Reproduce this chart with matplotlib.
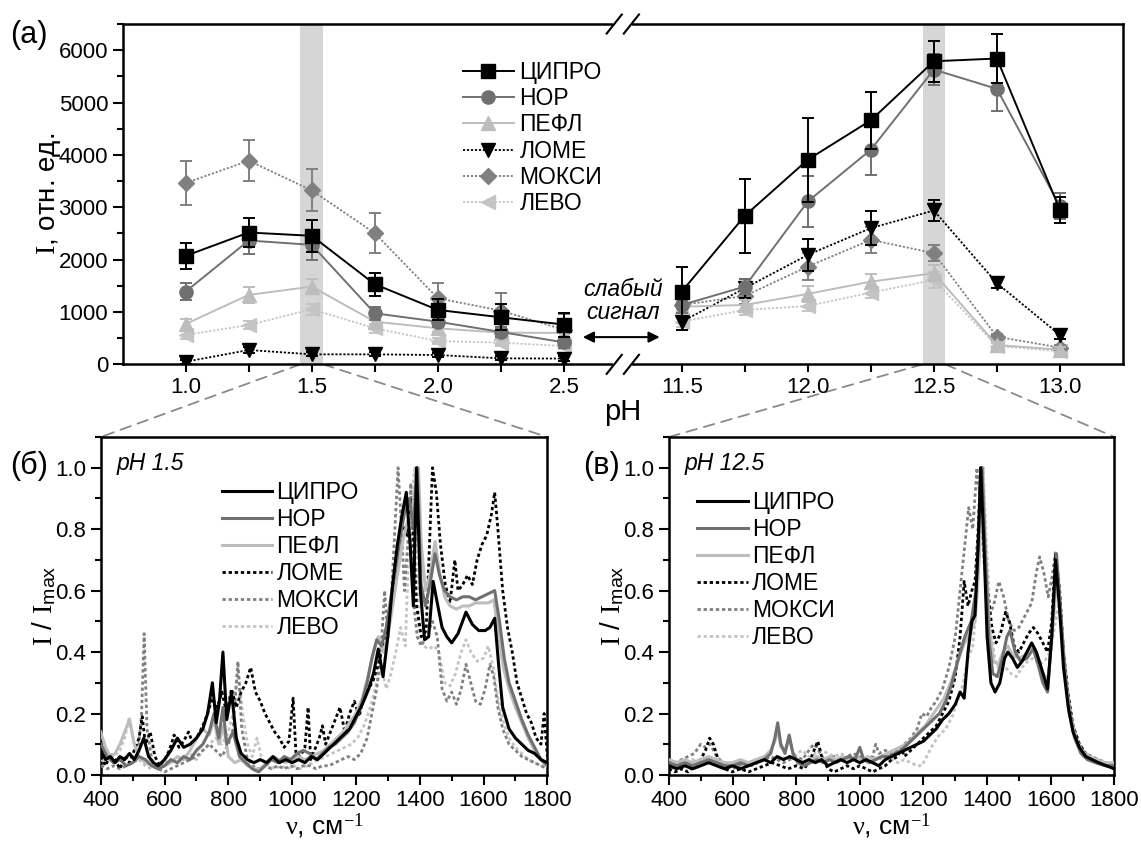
import numpy as np
import matplotlib
matplotlib.use("Agg")
import matplotlib.pyplot as plt
from matplotlib.patches import ConnectionPatch
from matplotlib.ticker import MultipleLocator, FormatStrFormatter

plt.rcParams["font.family"] = ["Liberation Sans", "DejaVu Sans"]
plt.rcParams["mathtext.fontset"] = "custom"
plt.rcParams["mathtext.rm"] = "Liberation Serif"
plt.rcParams["mathtext.sf"] = "Liberation Sans"
plt.rcParams["mathtext.it"] = "Liberation Serif:italic"

names = ["ЦИПРО", "НОР", "ПЕФЛ", "ЛОМЕ", "МОКСИ", "ЛЕВО"]

# ---- panel (a): intensity vs pH ----
ph_left = [1.0, 1.25, 1.5, 1.75, 2.0, 2.25, 2.5]
ph_right = [11.5, 11.75, 12.0, 12.25, 12.5, 12.75, 13.0]

cipro_left = [2072, 2518, 2455, 1530, 1039, 899, 760]
cipro_left_err = [245, 270, 300, 220, 200, 250, 230]
cipro_right = [1390, 2837, 3909, 4661, 5789, 5841, 2950]
cipro_right_err = [470, 710, 800, 540, 390, 460, 250]

nor_left = [1389, 2365, 2282, 975, 815, 618, 420]
nor_left_err = [160, 250, 280, 120, 100, 90, 100]
nor_right = [1134, 1485, 3111, 4100, 5630, 5261, 3020]
nor_right_err = [150, 150, 480, 490, 300, 430, 250]

pefl_left = [771, 1326, 1485, 815, 689, 605, 600]
pefl_left_err = [100, 150, 150, 100, 80, 80, 80]
pefl_right = [1100, 1134, 1345, 1580, 1741, 369, 280]
pefl_right_err = [100, 100, 150, 150, 150, 60, 50]

lome_left = [50, 274, 191, 191, 178, 115, 110]
lome_left_err = [40, 60, 40, 40, 40, 40, 40]
lome_right = [815, 1454, 2091, 2602, 2939, 1550, 560]
lome_right_err = [150, 180, 300, 330, 200, 90, 80]

moxi_left = [3463, 3889, 3322, 2506, 1262, 1026, 660]
moxi_left_err = [420, 390, 400, 380, 290, 330, 300]
moxi_right = [1134, 1307, 1868, 2378, 2123, 528, 320]
moxi_right_err = [150, 150, 250, 250, 150, 60, 50]

levo_left = [560, 752, 1052, 688, 446, 414, 350]
levo_left_err = [80, 80, 100, 80, 60, 60, 60]
levo_right = [815, 1039, 1115, 1370, 1613, 350, 250]
levo_right_err = [100, 100, 100, 100, 150, 60, 50]

xticks_left = [1.0, 1.5, 2.0, 2.5]
xticks_right = [11.5, 12.0, 12.5, 13.0]
ph_selected = [1.5, 12.5]

# ---- panel (б): spectra at pH 1.5 ----
cipro_15 = [(400,.08),(415,.05),(430,.06),(445,.04),(460,.06),(475,.05),(490,.07),(505,.05),(520,.08),(535,.12),
            (550,.06),(565,.04),(580,.03),(600,.05),(620,.08),(640,.12),(660,.09),(680,.1),(700,.12),(720,.15),
            (735,.2),(750,.3),(762,.17),(772,.24),(783,.4),(795,.18),(810,.27),(825,.12),(840,.07),(860,.05),
            (880,.04),(900,.05),(920,.04),(940,.06),(960,.04),(980,.05),(1000,.04),(1020,.05),(1040,.04),(1060,.06),
            (1080,.05),(1100,.07),(1120,.09),(1140,.11),(1160,.13),(1180,.15),(1200,.19),(1220,.23),(1240,.28),
            (1255,.33),(1270,.41),(1285,.32),(1300,.45),(1315,.62),(1330,.75),(1345,.85),(1358,.92),(1370,.75),
            (1380,.55),(1390,1.0),(1402,.6),(1415,.44),(1428,.45),(1442,.63),(1455,.56),(1470,.48),(1485,.45),
            (1500,.43),(1520,.46),(1545,.53),(1565,.49),(1585,.47),(1605,.47),(1620,.48),(1635,.51),(1648,.35),
            (1660,.22),(1680,.15),(1700,.12),(1720,.1),(1740,.08),(1760,.07),(1780,.05),(1800,.04)]
nor_15 = [(400,.1),(420,.06),(440,.04),(460,.05),(480,.03),(500,.04),(520,.06),(540,.05),(560,.03),(580,.02),
          (600,.03),(620,.05),(640,.04),(660,.06),(680,.05),(700,.08),(720,.1),(740,.14),(755,.2),(770,.12),
          (783,.22),(795,.1),(815,.14),(835,.06),(855,.04),(875,.02),(895,.01),(915,.03),(935,.05),(955,.04),
          (975,.06),(995,.05),(1015,.07),(1035,.08),(1055,.07),(1075,.05),(1095,.07),(1115,.09),(1135,.1),
          (1155,.12),(1175,.14),(1195,.17),(1215,.22),(1235,.3),(1250,.38),(1265,.44),(1280,.42),(1295,.48),
          (1310,.58),(1325,.68),(1340,.78),(1355,.87),(1368,.9),(1380,.8),(1392,1.0),(1404,.62),(1418,.55),
          (1432,.62),(1448,.72),(1462,.65),(1478,.6),(1495,.58),(1515,.57),(1535,.58),(1555,.58),(1575,.57),
          (1595,.58),(1615,.59),(1635,.6),(1650,.5),(1665,.38),(1680,.3),(1700,.24),(1720,.18),(1740,.13),
          (1760,.09),(1780,.05),(1800,.03)]
pefl_15 = [(400,.14),(415,.09),(430,.06),(445,.07),(460,.1),(475,.14),(490,.18),(505,.1),(520,.06),(540,.04),
           (560,.03),(580,.02),(600,.03),(620,.04),(640,.06),(660,.05),(680,.08),(700,.12),(720,.15),(740,.13),
           (755,.18),(770,.1),(785,.16),(800,.06),(820,.04),(840,.05),(860,.03),(880,.02),(900,.02),(920,.04),
           (940,.06),(960,.05),(980,.04),(1000,.05),(1020,.06),(1040,.05),(1060,.06),(1080,.07),(1100,.08),
           (1120,.1),(1140,.12),(1160,.14),(1180,.17),(1200,.2),(1220,.25),(1240,.33),(1255,.4),(1270,.45),
           (1285,.4),(1300,.45),(1315,.55),(1330,.65),(1345,.75),(1360,.82),(1375,.85),(1387,.95),(1396,1.0),
           (1405,.75),(1418,.6),(1432,.65),(1448,.76),(1462,.66),(1478,.58),(1495,.55),(1515,.54),(1535,.55),
           (1555,.55),(1575,.56),(1595,.56),(1615,.56),(1632,.57),(1648,.45),(1662,.35),(1680,.28),(1700,.22),
           (1720,.17),(1740,.12),(1760,.08),(1780,.05),(1800,.03)]
lome_15 = [(400,.06),(415,.03),(430,.07),(445,.05),(460,.02),(475,.06),(490,.04),(505,.08),(520,.12),(530,.19),
           (540,.1),(555,.14),(570,.06),(585,.03),(600,.05),(615,.08),(630,.13),(645,.09),(660,.11),(675,.14),
           (690,.1),(705,.13),(720,.16),(735,.2),(750,.25),(765,.22),(780,.27),(795,.2),(810,.28),(825,.22),
           (840,.27),(855,.3),(870,.35),(885,.27),(900,.24),(915,.2),(930,.17),(945,.14),(960,.12),(975,.09),
           (990,.11),(1003,.25),(1012,.07),(1025,.06),(1040,.09),(1050,.22),(1058,.05),(1070,.08),(1085,.12),
           (1095,.16),(1105,.1),(1120,.14),(1135,.18),(1150,.22),(1165,.14),(1180,.2),(1195,.24),(1210,.19),
           (1225,.26),(1240,.28),(1255,.31),(1270,.36),(1285,.42),(1300,.5),(1315,.6),(1330,.72),(1345,.82),
           (1360,.78),(1375,.9),(1390,.55),(1405,.45),(1420,.47),(1440,1.0),(1452,.92),(1465,.75),(1480,.62),
           (1495,.56),(1510,.7),(1520,.6),(1535,.62),(1550,.65),(1565,.62),(1580,.7),(1595,.75),(1610,.78),
           (1625,.85),(1635,.92),(1645,.8),(1660,.6),(1675,.48),(1690,.4),(1705,.3),(1720,.25),(1735,.2),
           (1750,.17),(1765,.12),(1780,.1),(1790,.2),(1800,.06)]
moxi_15 = [(400,.03),(420,.02),(440,.03),(460,.02),(480,.03),(500,.04),(515,.05),(528,.2),(536,.46),(545,.15),
           (560,.05),(580,.02),(600,.01),(620,.02),(640,.03),(660,.04),(680,.05),(700,.06),(720,.08),(740,.1),
           (760,.08),(780,.06),(800,.1),(815,.15),(830,.37),(842,.15),(858,.06),(875,.03),(895,.02),(915,.03),
           (935,.02),(955,.03),(975,.02),(995,.03),(1015,.02),(1035,.03),(1055,.03),(1075,.02),(1095,.03),
           (1115,.03),(1135,.04),(1155,.05),(1175,.06),(1195,.05),(1215,.07),(1235,.12),(1250,.2),(1265,.28),
           (1278,.4),(1290,.6),(1300,.45),(1312,.6),(1322,.8),(1332,1.0),(1342,.82),(1352,.6),(1362,.75),
           (1372,.95),(1382,.55),(1392,.45),(1405,.42),(1420,.45),(1440,.5),(1455,.45),(1470,.28),(1485,.24),
           (1500,.27),(1515,.23),(1530,.28),(1545,.36),(1560,.3),(1575,.24),(1590,.23),(1605,.28),(1620,.36),
           (1632,.32),(1645,.22),(1660,.15),(1680,.1),(1700,.08),(1720,.06),(1740,.05),(1760,.04),(1780,.03),
           (1800,.02)]
levo_15 = [(400,.05),(420,.04),(440,.06),(460,.08),(475,.12),(490,.19),(505,.1),(520,.05),(540,.03),(560,.02),
           (580,.03),(600,.04),(620,.05),(640,.04),(660,.06),(680,.07),(700,.05),(720,.08),(740,.1),(760,.12),
           (780,.1),(800,.14),(815,.2),(830,.35),(845,.2),(860,.1),(875,.06),(890,.12),(905,.05),(925,.03),
           (945,.02),(965,.03),(985,.02),(1005,.03),(1025,.02),(1045,.03),(1065,.04),(1085,.05),(1105,.06),
           (1125,.07),(1145,.08),(1165,.09),(1185,.1),(1205,.12),(1225,.16),(1245,.22),(1265,.3),(1280,.35),
           (1295,.28),(1310,.33),(1325,.4),(1340,.48),(1355,.42),(1370,.88),(1385,1.0),(1398,.45),(1412,.42),
           (1428,.41),(1445,.42),(1460,.4),(1478,.3),(1495,.29),(1512,.33),(1530,.4),(1545,.44),(1560,.4),
           (1580,.37),(1600,.38),(1615,.42),(1630,.35),(1645,.25),(1660,.18),(1680,.12),(1700,.09),(1720,.07),
           (1740,.05),(1760,.04),(1780,.03),(1800,.03)]

# ---- panel (в): spectra at pH 12.5 ----
cipro_125 = [(400,.03),(425,.02),(450,.03),(475,.02),(500,.03),(525,.04),(550,.03),(575,.02),(600,.03),(625,.02),
             (650,.03),(675,.04),(700,.05),(720,.04),(740,.06),(760,.05),(780,.06),(800,.05),(820,.04),(840,.05),
             (860,.04),(880,.05),(900,.03),(920,.04),(940,.05),(960,.04),(980,.05),(1000,.04),(1020,.05),(1040,.04),
             (1060,.03),(1080,.05),(1100,.06),(1120,.07),(1140,.08),(1160,.09),(1180,.1),(1200,.11),(1220,.13),
             (1240,.15),(1260,.18),(1280,.2),(1300,.23),(1315,.27),(1328,.25),(1340,.4),(1352,.5),(1362,.52),
             (1372,.75),(1380,1.0),(1390,.75),(1400,.45),(1412,.3),(1425,.27),(1440,.3),(1455,.38),(1465,.4),
             (1480,.38),(1495,.35),(1510,.37),(1525,.4),(1540,.43),(1555,.4),(1570,.35),(1590,.28),(1603,.45),
             (1615,.7),(1627,.55),(1640,.35),(1655,.22),(1670,.14),(1690,.09),(1710,.06),(1730,.05),(1750,.04),
             (1775,.03),(1800,.02)]
nor_125 = [(400,.04),(425,.03),(450,.04),(475,.03),(500,.04),(525,.05),(550,.04),(575,.03),(600,.03),(625,.04),
           (650,.03),(675,.04),(700,.05),(720,.07),(733,.12),(742,.17),(752,.1),(765,.07),(778,.13),(790,.07),
           (805,.04),(825,.03),(845,.04),(865,.05),(885,.04),(905,.05),(925,.04),(945,.05),(965,.06),(985,.05),
           (1000,.09),(1012,.05),(1030,.04),(1050,.05),(1070,.06),(1090,.06),(1110,.07),(1130,.08),(1150,.1),
           (1170,.12),(1190,.14),(1210,.16),(1230,.18),(1250,.2),(1270,.24),(1290,.3),(1310,.38),(1330,.45),
           (1350,.5),(1365,.6),(1378,.9),(1384,1.0),(1393,.75),(1405,.45),(1418,.33),(1432,.32),(1448,.38),
           (1462,.45),(1472,.47),(1488,.4),(1505,.37),(1525,.38),(1545,.41),(1560,.36),(1575,.3),(1590,.27),
           (1603,.45),(1618,.72),(1630,.55),(1643,.35),(1658,.2),(1675,.12),(1695,.07),(1715,.05),(1740,.04),
           (1770,.03),(1800,.03)]
pefl_125 = [(400,.05),(425,.04),(450,.05),(475,.04),(500,.05),(525,.06),(550,.05),(575,.04),(600,.04),(625,.05),
            (650,.04),(675,.05),(700,.06),(720,.08),(733,.11),(742,.15),(752,.09),(765,.08),(778,.12),(790,.07),
            (805,.05),(825,.04),(845,.05),(865,.06),(885,.05),(905,.06),(925,.05),(945,.06),(965,.05),(985,.06),
            (1005,.05),(1025,.06),(1045,.05),(1065,.06),(1085,.07),(1105,.08),(1125,.09),(1145,.1),(1165,.12),
            (1185,.14),(1205,.16),(1225,.19),(1245,.22),(1265,.25),(1285,.3),(1305,.36),(1325,.42),(1345,.46),
            (1362,.5),(1375,.7),(1386,1.0),(1395,.75),(1407,.48),(1420,.37),(1435,.36),(1450,.4),(1465,.42),
            (1480,.39),(1500,.38),(1520,.39),(1540,.42),(1560,.38),(1575,.33),(1592,.31),(1606,.48),(1620,.65),
            (1632,.5),(1645,.33),(1660,.2),(1678,.12),(1698,.08),(1720,.06),(1745,.05),(1770,.04),(1800,.04)]
lome_125 = [(400,.02),(420,.01),(440,.02),(460,.01),(480,.03),(500,.05),(515,.08),(528,.12),(540,.1),(555,.05),
            (575,.02),(600,.01),(625,.02),(650,.01),(675,.02),(700,.03),(725,.04),(750,.03),(775,.02),(800,.03),
            (825,.02),(845,.05),(860,.09),(868,.11),(880,.06),(900,.02),(920,.01),(940,.02),(960,.03),(980,.02),
            (1000,.03),(1020,.02),(1040,.01),(1060,.02),(1080,.03),(1100,.05),(1120,.06),(1130,.09),(1140,.06),
            (1160,.08),(1180,.1),(1200,.12),(1220,.14),(1240,.16),(1260,.2),(1280,.24),(1300,.32),(1315,.45),
            (1328,.63),(1340,.55),(1352,.6),(1362,.63),(1372,.8),(1380,1.0),(1390,.8),(1402,.6),(1415,.48),
            (1428,.43),(1442,.46),(1458,.53),(1470,.5),(1485,.42),(1500,.4),(1515,.43),(1530,.46),(1545,.48),
            (1560,.46),(1575,.43),(1590,.4),(1603,.5),(1615,.72),(1628,.6),(1640,.4),(1655,.26),(1670,.16),
            (1690,.1),(1710,.07),(1730,.05),(1750,.04),(1775,.03),(1800,.02)]
moxi_125 = [(400,.03),(420,.04),(440,.05),(460,.06),(480,.07),(500,.1),(515,.09),(530,.1),(545,.07),(560,.05),
            (580,.03),(600,.02),(620,.03),(640,.04),(660,.03),(680,.04),(700,.05),(720,.06),(740,.05),(760,.04),
            (780,.05),(800,.06),(820,.05),(840,.08),(855,.1),(865,.09),(880,.06),(900,.05),(920,.06),(940,.05),
            (960,.06),(980,.07),(1000,.06),(1020,.05),(1040,.06),(1050,.1),(1060,.07),(1080,.08),(1100,.07),
            (1120,.08),(1140,.1),(1160,.12),(1180,.15),(1195,.2),(1210,.19),(1225,.22),(1240,.24),(1260,.28),
            (1280,.35),(1300,.45),(1315,.6),(1330,.75),(1342,.87),(1355,.8),(1368,1.0),(1378,.9),(1390,.7),
            (1405,.52),(1420,.55),(1437,.63),(1452,.58),(1468,.5),(1485,.47),(1500,.48),(1520,.52),(1540,.56),
            (1555,.66),(1565,.71),(1578,.66),(1592,.58),(1605,.65),(1615,.73),(1627,.58),(1640,.4),(1655,.25),
            (1670,.16),(1690,.1),(1710,.07),(1730,.06),(1750,.05),(1775,.04),(1800,.03)]
levo_125 = [(400,.04),(425,.03),(450,.04),(475,.05),(500,.04),(525,.05),(550,.04),(575,.03),(600,.04),(625,.03),
            (650,.04),(675,.05),(700,.06),(725,.05),(750,.06),(775,.05),(800,.07),(820,.08),(840,.06),(860,.07),
            (880,.08),(900,.07),(920,.06),(940,.07),(960,.06),(980,.05),(1000,.06),(1020,.05),(1040,.06),
            (1060,.05),(1080,.06),(1100,.05),(1120,.04),(1140,.05),(1160,.04),(1180,.03),(1195,.03),(1210,.06),
            (1230,.1),(1250,.13),(1270,.15),(1290,.19),(1310,.25),(1325,.3),(1340,.38),(1355,.42),(1370,.6),
            (1380,.85),(1388,1.0),(1398,.75),(1410,.5),(1425,.37),(1440,.34),(1458,.35),(1475,.33),(1492,.32),
            (1510,.35),(1528,.37),(1545,.38),(1562,.36),(1580,.37),(1598,.4),(1612,.48),(1625,.56),(1637,.45),
            (1650,.3),(1665,.18),(1682,.11),(1700,.08),(1720,.06),(1745,.05),(1770,.04),(1800,.03)]

# styles
colors = ["black", "#707070", "#bdbdbd", "black", "#808080", "#c4c4c4"]
markers = ["s", "o", "^", "v", "D", "<"]
dots = (0, (1.2, 1.0))
lstyles = ["-", "-", "-", dots, dots, dots]

fig = plt.figure(figsize=(11.41, 8.43), dpi=100)
ax = fig.add_axes([0.1075, 0.5678, 0.8767, 0.4037])
axb = fig.add_axes([0.0883, 0.0807, 0.3914, 0.4009])
axc = fig.add_axes([0.5862, 0.0807, 0.3905, 0.4009])

# broken pH axis: right block shifted next to the left block
offset = 8.5325
def shift(v):
    return [p - offset for p in v]

left_sets = [(cipro_left, cipro_left_err), (nor_left, nor_left_err), (pefl_left, pefl_left_err),
             (lome_left, lome_left_err), (moxi_left, moxi_left_err), (levo_left, levo_left_err)]
right_sets = [(cipro_right, cipro_right_err), (nor_right, nor_right_err), (pefl_right, pefl_right_err),
              (lome_right, lome_right_err), (moxi_right, moxi_right_err), (levo_right, levo_right_err)]

band = 0.045
for p in ph_selected:
    xp = p if p < 5 else p - offset
    ax.axvspan(xp - band, xp + band, color="#d6d6d6", zorder=0, lw=0)

handles = []
for i in reversed(range(6)):
    kw = dict(color=colors[i], marker=markers[i], ls=lstyles[i], lw=1.4 if i < 3 else 1.3,
              ms=9.5 if markers[i] != "D" else 8.5, mec=colors[i], capsize=4, elinewidth=1.4,
              capthick=1.4, zorder=3 + (6 - i))
    c = ax.errorbar(ph_left, left_sets[i][0], yerr=left_sets[i][1], **kw)
    ax.errorbar(shift(ph_right), right_sets[i][0], yerr=right_sets[i][1], **kw)
    handles.insert(0, c[0])

ax.set_xlim(0.75, 13.25 - offset)
ax.set_ylim(0, 6500)
ax.set_xticks(xticks_left + shift(xticks_right))
ax.set_xticklabels(["%.1f" % v for v in xticks_left + xticks_right])
ax.set_xticks([1.25, 1.75, 2.25] + shift([11.75, 12.25, 12.75]), minor=True)
ax.yaxis.set_major_locator(MultipleLocator(1000))
ax.yaxis.set_minor_locator(MultipleLocator(500))
ax.tick_params(axis="x", which="both", direction="out", length=6, width=1.5, labelsize=16, pad=3)
ax.tick_params(axis="y", which="major", direction="out", length=7, width=1.5, labelsize=16)
ax.tick_params(axis="y", which="minor", direction="out", length=4, width=1.5)
for s in ax.spines.values():
    s.set_linewidth(1.8)
ax.set_xlabel("pH", fontsize=21, labelpad=0)
ax.set_ylabel(r"$\mathrm{I}$, отн. ед.", fontsize=20, labelpad=-3)

leg = ax.legend(handles, names, loc="upper left", bbox_to_anchor=(0.329, 0.925), frameon=False,
                fontsize=16.5, handlelength=2.2, handletextpad=0.25, labelspacing=0.14, borderpad=0)

# break marks
xb = (2.5 + (11.5 - offset)) / 2
trans = ax.get_xaxis_transform()
for yb in (0, 1):
    ax.plot([xb - 0.03, xb + 0.03], [yb, yb], color="white", lw=3, transform=trans, clip_on=False, zorder=10)
    for dx in (-0.034, 0.034):
        ax.plot([xb + dx - 0.03, xb + dx + 0.03], [yb - 0.028, yb + 0.028], color="black", lw=1.5,
                transform=trans, clip_on=False, zorder=11)

ax.annotate("", xy=(2.575, 520), xytext=(2.88, 520),
            arrowprops=dict(arrowstyle="<|-|>", color="black", lw=1.5, mutation_scale=16, shrinkA=0, shrinkB=0))
ax.text(xb, 1210, "слабый\nсигнал", ha="center", va="center", fontsize=16.5, style="italic", linespacing=0.95)

# ---- spectra ----
spectra_b = [cipro_15, nor_15, pefl_15, lome_15, moxi_15, levo_15]
spectra_c = [cipro_125, nor_125, pefl_125, lome_125, moxi_125, levo_125]
for a, spectra, tag in ((axb, spectra_b, "pH 1.5"), (axc, spectra_c, "pH 12.5")):
    lines = []
    for i in reversed(range(6)):
        x, y = zip(*spectra[i])
        ln, = a.plot(x, y, color=colors[i], ls=lstyles[i], lw=2.2 if i < 3 else 2.0, zorder=3 + (6 - i))
        lines.insert(0, ln)
    a.set_xlim(400, 1800)
    a.set_ylim(0, 1.1)
    a.xaxis.set_major_locator(MultipleLocator(200))
    a.xaxis.set_minor_locator(MultipleLocator(100))
    a.yaxis.set_major_locator(MultipleLocator(0.2))
    a.yaxis.set_minor_locator(MultipleLocator(0.1))
    a.yaxis.set_major_formatter(FormatStrFormatter("%.1f"))
    a.tick_params(which="major", direction="out", length=7, width=1.5, labelsize=16)
    a.tick_params(which="minor", direction="out", length=4, width=1.5)
    for s in a.spines.values():
        s.set_linewidth(1.8)
    a.set_xlabel(r"$\mathrm{ν}$, см$^{-1}$", fontsize=19, labelpad=1)
    a.set_ylabel(r"$\mathrm{I}$ / $\mathrm{I}_{\mathsf{max}}$", fontsize=20, labelpad=-2)
    a.text(0.035, 0.955, tag, transform=a.transAxes, fontsize=16.5, style="italic", ha="left", va="top")
    if a is axb:
        a.legend(lines, names, loc="upper left", bbox_to_anchor=(0.245, 0.905), frameon=False, fontsize=16.5,
                 handlelength=2.2, handletextpad=0.2, labelspacing=0.18, borderpad=0)
    else:
        a.legend(lines, names, loc="upper left", bbox_to_anchor=(0.038, 0.875), frameon=False, fontsize=16.5,
                 handlelength=2.2, handletextpad=0.2, labelspacing=0.18, borderpad=0)

# zoom guides from the shaded pH bands to the spectra panels
for p, a in zip(ph_selected, (axb, axc)):
    xp = p if p < 5 else p - offset
    for xe, fx in ((xp - band, 0), (xp + band, 1)):
        cp = ConnectionPatch(xyA=(xe, 0), coordsA=ax.transData, xyB=(fx, 1), coordsB=a.transAxes,
                             color="#8a8a8a", lw=1.3, ls=(0, (6, 4)), zorder=0)
        fig.add_artist(cp)

fig.text(0.009, 0.958, "(a)", fontsize=22, va="center")
fig.text(0.009, 0.447, "(б)", fontsize=22, va="center")
fig.text(0.511, 0.447, "(в)", fontsize=22, va="center")

fig.savefig("out.png", dpi=100)
